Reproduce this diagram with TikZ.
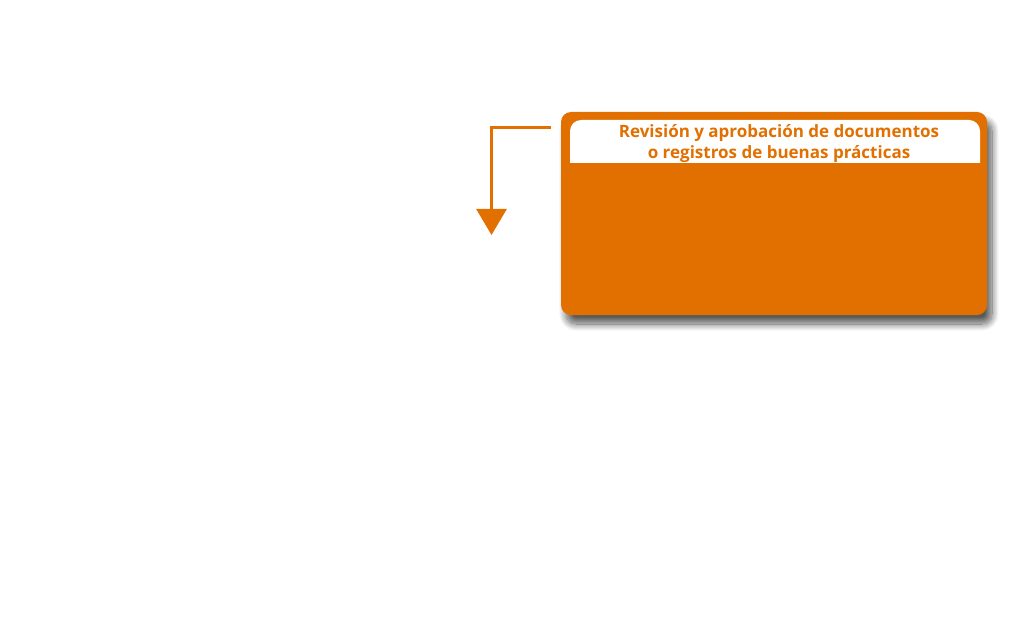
\documentclass[tikz,border=0pt]{standalone}
\usepackage{fontspec}
\setmainfont{Open Sans}
\usetikzlibrary{shadows.blur,arrows.meta}
\definecolor{orng}{HTML}{E17000}
\tikzset{
  mainbox/.style={fill=orng, rounded corners=10pt, blur shadow={shadow xshift=5pt, shadow yshift=-9pt, shadow blur radius=7pt, shadow opacity=65, shadow blur steps=16}},
  titlebox/.style={fill=white, rounded corners=11pt},
  conn/.style={draw=orng, line width=3pt, -{Triangle[width=30pt,length=26pt]}},
  titletext/.style={text=orng, font=\bfseries\fontsize{17}{21}\selectfont, align=center}
}
\begin{document}
\begin{tikzpicture}[x=1pt,y=-1pt]
\useasboundingbox (0,0) rectangle (1024,620);
\path[mainbox] (561,112) rectangle (987,315);
\begin{scope}
\clip (560,100) rectangle (990,163);
\path[titlebox] (570,120) rectangle (980,190);
\end{scope}
\node[titletext] (t) at (779,143.5) {Revisión y aprobación de documentos\\o registros de buenas prácticas};
\coordinate (s) at (551,127.5);
\coordinate (e) at (491.5,235);
\draw[conn] (s) -| (e);
\end{tikzpicture}
\end{document}
